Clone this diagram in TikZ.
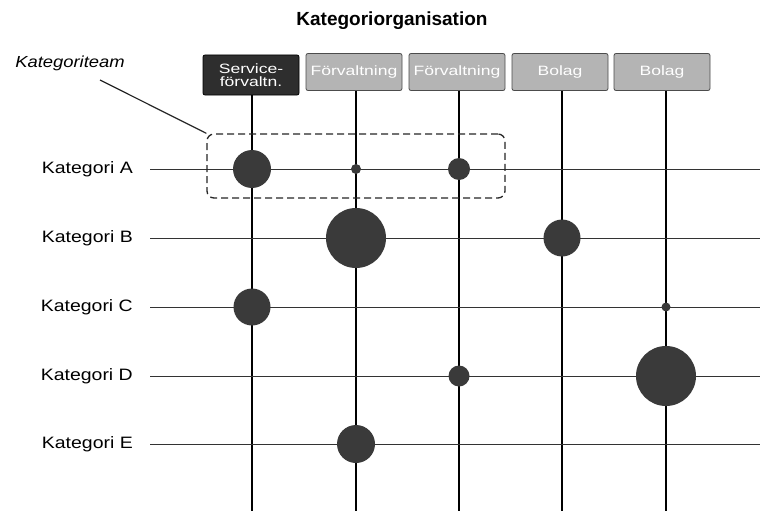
\documentclass[tikz,border=0pt]{standalone}
\usepackage{fontspec}
\setmainfont{Liberation Sans}
\newfontfamily\labfont[FakeStretch=1.18]{Liberation Sans}
\newfontfamily\hdfont[FakeStretch=1.3]{Liberation Sans}
\newfontfamily\ktfont[FakeStretch=1.15]{Liberation Sans}
\definecolor{dot}{HTML}{3A3A3A}
\definecolor{hdark}{HTML}{2E2E2E}
\definecolor{hlight}{HTML}{B4B4B4}
\begin{document}
\begin{tikzpicture}[x=1pt,y=-1pt,
  hbox/.style={draw=black!70, line width=0.8pt, rounded corners=2pt, fill=hlight,
    text=white, minimum width=96pt, minimum height=37pt, align=center, inner sep=1pt,
    font=\hdfont\fontsize{13.5}{13.5}\selectfont},
  hboxdark/.style={hbox, fill=hdark, draw=black, minimum height=40pt},
  rowlab/.style={anchor=east, font=\labfont\fontsize{16.5}{16.5}\selectfont, inner sep=0pt},
  hline/.style={draw=black!80, line width=0.9pt},
  vline/.style={draw=black, line width=1.3pt},
  dotc/.style={circle, fill=dot, inner sep=0pt, minimum size=#1},
  team/.style={draw=black!85, dashed, dash pattern=on 7pt off 4pt, line width=1.3pt, rounded corners=7pt},
]
\useasboundingbox (0,0) rectangle (760,511);
\fill[white] (0,0) rectangle (760,511);

% title
\node[font=\bfseries\fontsize{19}{19}\selectfont] (title) at (392,21) {Kategoriorganisation};

% header boxes
\node[hboxdark] (h1) at (251,75) {Service-\\förvaltn.};
\node[hbox] (h2) at (354,72) {Förvaltning};
\node[hbox] (h3) at (457,72) {Förvaltning};
\node[hbox] (h4) at (560,72) {Bolag};
\node[hbox] (h5) at (662,72) {Bolag};

% row labels
\node[rowlab] (kA) at (133,169) {Kategori A};
\node[rowlab] (kB) at (133,238) {Kategori B};
\node[rowlab] (kC) at (133,307) {Kategori C};
\node[rowlab] (kD) at (133,376) {Kategori D};
\node[rowlab] (kE) at (133,444) {Kategori E};

% bottom and right ends
\coordinate (bot) at (0,511);
\coordinate (rgt) at (760,0);

% vertical lines
\foreach \h/\x in {h1/252,h2/356,h3/459,h4/562,h5/666}{
  \coordinate (\h top) at (\x,0 |- \h.south);
  \draw[vline] (\h.south -| \h top) -- (\h top |- bot);
}
% horizontal lines
\foreach \k in {kA,kB,kC,kD,kE}{
  \draw[hline] ([xshift=17pt]\k.east) -- (\k.east -| rgt);
}

% circles
\node[dotc=38pt] (a1) at (252,169) {};
\node[dotc=10pt] (a2) at (356,169) {};
\node[dotc=22pt] (a3) at (459,169) {};
\node[dotc=60pt] (b2) at (356,238) {};
\node[dotc=37pt] (b4) at (562,238) {};
\node[dotc=37pt] (c1) at (252,307) {};
\node[dotc=9pt]  (c5) at (666,307) {};
\node[dotc=21pt] (d3) at (459,376) {};
\node[dotc=60pt] (d5) at (666,376) {};
\node[dotc=38pt] (e2) at (356,444) {};

% Kategoriteam
\node[team, minimum width=298pt, minimum height=64pt] (tm) at (356,166) {};
\node[font=\ktfont\itshape\fontsize{16}{16}\selectfont] (kt) at (70,63) {Kategoriteam};
\draw[black!85, line width=1.2pt] (100,80) -- (tm.north west);
\end{tikzpicture}
\end{document}
